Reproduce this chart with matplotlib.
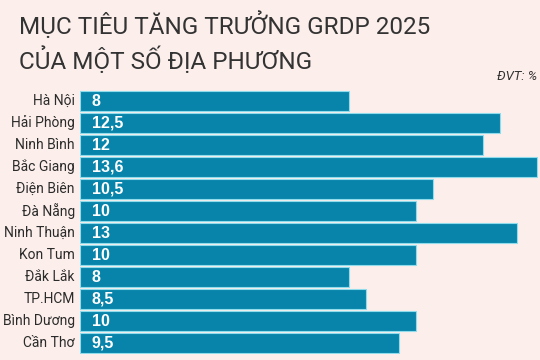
import matplotlib
matplotlib.use("Agg")
import matplotlib.pyplot as plt

provinces = ["Hà Nội", "Hải Phòng", "Ninh Bình", "Bắc Giang", "Điện Biên", "Đà Nẵng",
             "Ninh Thuận", "Kon Tum", "Đắk Lắk", "TP.HCM", "Bình Dương", "Cần Thơ"]
targets = [8, 12.5, 12, 13.6, 10.5, 10, 13, 10, 8, 8.5, 10, 9.5]
value_labels = ["8", "12,5", "12", "13,6", "10,5", "10", "13", "10", "8", "8,5", "10", "9,5"]

BG = "#fcefeb"
BAR = "#0884ab"
EDGE = "#8fdcec"
TXT = "#2b2b2b"

plt.rcParams["font.family"] = ["Roboto", "DejaVu Sans"]

W, H = 540, 360
fig = plt.figure(figsize=(5.4, 3.6), dpi=100)
fig.patch.set_facecolor(BG)

# axes: bars start at x=80px, rows 22px each from y=90px
ax = fig.add_axes([80 / W, 1 - 354 / H, 460 / W, 264 / H])
ax.set_facecolor(BG)
ys = list(range(len(provinces)))
ax.barh(ys, targets, height=0.87, color=BAR, edgecolor=EDGE, linewidth=0.8)
ax.set_xlim(0, 460 / 33.6)
ax.set_ylim(len(provinces) - 0.5, -0.5)
ax.axis("off")

for y, name, lab in zip(ys, provinces, value_labels):
    ax.text(-0.15, y, name, ha="right", va="center", fontsize=10, color=TXT)
    ax.text(0.35, y, lab, ha="left", va="center", fontsize=11.5, color="white",
            fontweight="bold", family=["Liberation Sans", "DejaVu Sans"])

fig.text(19 / W, 1 - 25 / H, "MỤC TIÊU TĂNG TRƯỞNG GRDP 2025", fontsize=17.5,
         color="#333333", ha="left", va="center")
fig.text(19 / W, 1 - 60 / H, "CỦA MỘT SỐ ĐỊA PHƯƠNG", fontsize=17.5,
         color="#333333", ha="left", va="center")
fig.text(537 / W, 1 - 77 / H, "ĐVT: %", fontsize=9.5, style="italic",
         color="#333333", ha="right", va="center")

fig.savefig("out.png", dpi=100, facecolor=BG)
